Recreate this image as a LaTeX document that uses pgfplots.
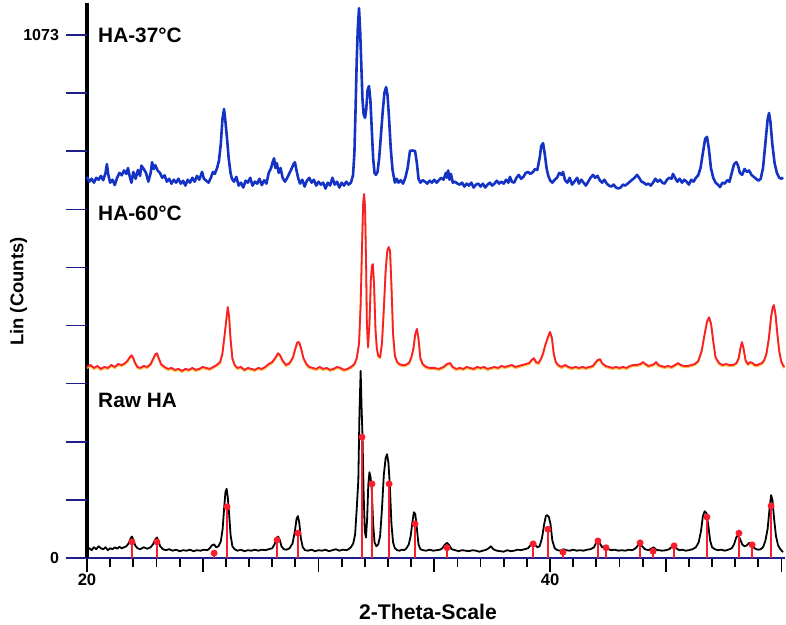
\documentclass[border=0pt]{standalone}
\usepackage{pgfplots}
\pgfplotsset{compat=1.18}
\usepackage{pgfplotstable}
\usepackage{fontspec}
\setmainfont{Liberation Sans}
\definecolor{cblue}{RGB}{20,50,195}
\definecolor{cred}{RGB}{250,30,45}
\definecolor{cyel}{RGB}{250,190,60}
\definecolor{cnavy}{RGB}{30,30,140}

\pgfplotstableread{
x y
20.00 782
20.10 772
20.20 778
20.30 770
20.40 780
20.50 776
20.60 784
20.70 775
20.80 790
20.86 808
20.92 786
21.00 770
21.10 776
21.20 765
21.30 780
21.40 790
21.50 785
21.60 795
21.70 788
21.77 800
21.85 782
21.92 770
22.00 792
22.10 778
22.20 796
22.29 784
22.35 805
22.45 798
22.55 790
22.65 772
22.75 790
22.81 812
22.88 798
22.95 806
23.05 795
23.15 790
23.25 780
23.35 785
23.45 772
23.55 778
23.65 768
23.75 776
23.85 770
23.95 778
24.05 768
24.15 774
24.25 764
24.35 776
24.45 770
24.55 780
24.65 772
24.75 784
24.85 776
24.97 792
25.05 778
25.15 774
25.25 770
25.35 780
25.44 792
25.52 788
25.62 800
25.70 815
25.78 850
25.85 900
25.92 921
25.98 895
26.05 860
26.12 820
26.20 790
26.26 778
26.35 772
26.45 782
26.55 764
26.65 770
26.75 760
26.85 774
26.95 770
27.05 780
27.15 764
27.25 772
27.35 768
27.45 778
27.55 765
27.65 775
27.75 768
27.85 790
27.95 800
28.02 812
28.08 820
28.14 800
28.20 810
28.28 790
28.36 800
28.45 780
28.55 772
28.65 780
28.75 790
28.85 800
28.92 808
28.98 812
29.05 795
29.12 780
29.20 768
29.30 776
29.40 762
29.50 774
29.60 780
29.70 770
29.80 776
29.90 764
30.00 772
30.10 766
30.20 770
30.30 758
30.40 770
30.50 764
30.60 780
30.70 766
30.80 772
30.90 760
31.00 770
31.10 764
31.20 772
31.30 766
31.40 770
31.49 785
31.55 830
31.60 920
31.65 1020
31.70 1090
31.75 1128
31.80 1080
31.85 1010
31.90 940
31.95 910
32.01 903
32.06 920
32.12 960
32.18 968
32.24 940
32.30 880
32.36 820
32.42 790
32.48 786
32.55 792
32.62 820
32.70 870
32.78 920
32.85 955
32.92 966
32.98 950
33.05 900
33.12 840
33.20 795
33.30 770
33.38 778
33.45 770
33.55 775
33.65 768
33.75 780
33.85 800
33.95 835
34.05 836
34.17 835
34.25 810
34.32 778
34.40 770
34.50 775
34.60 772
34.70 768
34.80 774
34.90 770
35.00 776
35.10 770
35.20 775
35.30 780
35.40 776
35.50 790
35.55 780
35.60 795
35.66 776
35.72 788
35.80 770
35.90 772
36.00 768
36.10 766
36.20 770
36.30 762
36.40 768
36.50 764
36.60 770
36.70 760
36.80 766
36.90 768
37.00 762
37.10 768
37.20 760
37.30 766
37.40 770
37.50 764
37.60 768
37.70 774
37.80 768
37.90 772
38.00 768
38.10 776
38.20 770
38.27 782
38.35 772
38.45 770
38.55 780
38.65 786
38.75 778
38.85 782
38.95 790
39.05 792
39.15 788
39.27 792
39.35 798
39.45 796
39.55 820
39.62 845
39.70 851
39.77 830
39.85 800
39.92 785
40.00 775
40.10 770
40.20 776
40.30 780
40.40 790
40.50 786
40.56 792
40.65 775
40.75 770
40.85 780
40.95 766
41.05 772
41.17 780
41.25 768
41.35 776
41.45 770
41.55 764
41.65 772
41.75 780
41.86 786
41.95 780
42.05 784
42.15 775
42.25 770
42.35 776
42.45 768
42.55 764
42.65 762
42.75 766
42.85 760
42.95 758
43.05 760
43.15 766
43.25 764
43.35 768
43.45 772
43.55 776
43.65 780
43.76 786
43.85 780
43.95 772
44.05 770
44.15 766
44.25 768
44.35 764
44.45 770
44.55 778
44.65 772
44.75 776
44.85 770
44.95 768
45.05 776
45.15 780
45.25 778
45.31 788
45.40 780
45.50 772
45.60 778
45.70 770
45.80 776
45.90 772
46.00 766
46.10 776
46.20 772
46.30 780
46.40 785
46.50 800
46.60 830
46.70 860
46.78 864
46.86 840
46.95 800
47.05 780
47.15 770
47.25 766
47.34 761
47.45 770
47.55 768
47.65 775
47.75 772
47.85 790
47.95 808
48.05 812
48.12 805
48.20 790
48.30 786
48.40 798
48.51 792
48.60 795
48.70 786
48.80 782
48.90 778
49.00 774
49.10 778
49.20 800
49.30 850
49.40 900
49.46 913
49.52 895
49.60 850
49.70 810
49.80 790
49.90 780
50.00 778
50.06 781
}\bluedata

\pgfplotstableread{
x y
20.00 392
20.15 396
20.30 390
20.45 394
20.60 388
20.75 392
20.90 390
21.05 396
21.20 392
21.35 398
21.50 396
21.65 400
21.75 405
21.85 412
21.93 416
22.00 410
22.08 400
22.18 392
22.30 390
22.45 394
22.60 392
22.75 398
22.85 408
22.95 418
23.02 420
23.10 410
23.20 398
23.35 392
23.50 388
23.65 390
23.80 386
23.95 388
24.10 384
24.25 388
24.40 386
24.55 390
24.70 386
24.85 388
25.00 392
25.15 390
25.30 388
25.45 392
25.60 396
25.75 402
25.85 420
25.95 460
26.02 490
26.08 515
26.14 495
26.20 450
26.28 410
26.38 396
26.50 390
26.65 392
26.80 386
26.95 390
27.10 388
27.25 386
27.40 390
27.55 388
27.70 392
27.85 398
28.00 402
28.15 412
28.25 420
28.34 416
28.45 405
28.60 396
28.75 400
28.90 412
29.00 430
29.08 442
29.16 443
29.24 432
29.35 410
29.48 398
29.60 392
29.75 390
29.90 388
30.05 392
30.20 388
30.35 390
30.50 386
30.65 388
30.80 392
30.95 390
31.10 386
31.25 388
31.40 392
31.55 398
31.65 410
31.75 440
31.82 520
31.88 640
31.93 730
31.97 747
32.01 720
32.05 620
32.09 480
32.14 433
32.20 480
32.26 570
32.31 600
32.35 603
32.40 560
32.46 470
32.52 430
32.58 415
32.66 412
32.74 440
32.82 510
32.90 590
32.97 630
33.03 638
33.09 630
33.15 560
33.22 460
33.30 415
33.40 402
33.50 398
33.60 396
33.75 396
33.90 400
34.00 410
34.10 430
34.18 460
34.25 470
34.32 450
34.40 410
34.50 398
34.65 392
34.80 390
35.00 390
35.20 388
35.40 392
35.55 398
35.68 400
35.80 392
35.95 388
36.10 390
36.25 388
36.40 392
36.55 390
36.70 388
36.85 392
37.00 390
37.15 392
37.30 388
37.45 390
37.60 392
37.75 390
37.90 394
38.05 392
38.20 394
38.35 396
38.50 392
38.65 394
38.80 396
38.95 398
39.10 400
39.20 406
39.30 410
39.40 402
39.50 400
39.60 408
39.70 420
39.80 438
39.92 455
40.00 464
40.08 452
40.16 420
40.25 402
40.35 396
40.50 392
40.65 396
40.80 392
40.95 390
41.10 392
41.25 390
41.40 392
41.55 390
41.70 392
41.85 394
41.95 400
42.05 406
42.16 408
42.25 400
42.40 394
42.55 392
42.70 390
42.85 392
43.00 390
43.15 392
43.30 390
43.45 394
43.60 396
43.75 396
43.90 398
44.02 402
44.12 398
44.25 394
44.40 396
44.50 398
44.58 402
44.68 396
44.80 394
44.95 392
45.10 394
45.25 392
45.40 396
45.53 400
45.65 396
45.80 394
45.95 394
46.10 396
46.25 398
46.40 404
46.55 425
46.68 460
46.78 485
46.87 494
46.96 480
47.05 445
47.15 412
47.30 400
47.45 396
47.60 398
47.75 396
47.90 396
48.05 400
48.15 410
48.22 430
48.29 443
48.36 430
48.45 405
48.55 398
48.65 402
48.75 400
48.85 396
48.95 396
49.05 398
49.15 400
49.25 406
49.35 420
49.45 450
49.55 495
49.62 515
49.67 519
49.74 500
49.82 460
49.90 425
49.98 405
50.06 396
50.12 392
}\reddata

\pgfplotstableread{
x y
20.00 18
20.10 20
20.20 16
20.30 22
20.40 18
20.50 24
20.60 20
20.70 18
20.80 22
20.90 16
21.00 20
21.10 18
21.20 22
21.30 19
21.40 23
21.50 20
21.60 22
21.70 24
21.80 30
21.88 40
21.94 44
22.00 38
22.08 26
22.18 20
22.30 18
22.45 22
22.60 19
22.75 22
22.85 28
22.95 38
23.02 42
23.08 36
23.16 24
23.28 18
23.40 16
23.55 18
23.70 15
23.85 17
24.00 14
24.15 16
24.30 15
24.45 17
24.60 14
24.75 16
24.90 15
25.05 17
25.20 16
25.30 20
25.40 26
25.49 28
25.58 22
25.68 24
25.78 34
25.86 60
25.92 100
25.98 135
26.03 142
26.08 125
26.14 90
26.20 48
26.28 24
26.38 18
26.50 15
26.65 17
26.80 14
26.95 16
27.10 15
27.25 17
27.40 15
27.55 17
27.70 16
27.85 18
28.00 20
28.10 28
28.18 40
28.25 44
28.32 38
28.40 24
28.50 18
28.62 17
28.75 20
28.88 30
28.98 55
29.05 80
29.11 86
29.17 72
29.24 40
29.32 22
29.42 16
29.55 15
29.70 17
29.85 14
30.00 16
30.15 15
30.30 17
30.45 14
30.60 16
30.75 18
30.90 15
31.05 17
31.20 16
31.30 18
31.40 22
31.50 30
31.58 48
31.65 100
31.72 160
31.77 300
31.82 384
31.86 310
31.90 250
31.95 130
32.00 55
32.05 42
32.10 80
32.15 150
32.20 176
32.25 165
32.30 140
32.36 70
32.42 32
32.50 24
32.58 28
32.66 45
32.74 100
32.82 170
32.90 205
32.96 213
33.02 195
33.08 150
33.15 70
33.22 32
33.30 20
33.40 16
33.50 15
33.60 17
33.70 16
33.80 20
33.90 28
33.98 45
34.06 75
34.12 94
34.18 90
34.25 60
34.32 28
34.40 18
34.52 16
34.65 15
34.80 17
34.95 15
35.10 16
35.25 17
35.35 20
35.45 27
35.55 31
35.65 26
35.75 18
35.90 16
36.05 14
36.20 16
36.35 15
36.50 14
36.65 16
36.80 15
36.95 13
37.10 15
37.25 17
37.35 20
37.45 24
37.55 18
37.70 15
37.85 14
38.00 13
38.15 16
38.30 14
38.45 15
38.60 17
38.75 16
38.90 18
39.05 20
39.15 26
39.25 32
39.33 28
39.45 22
39.55 24
39.65 40
39.75 70
39.82 86
39.88 88
39.95 84
40.02 70
40.10 36
40.20 20
40.32 16
40.45 15
40.58 18
40.70 16
40.85 15
41.00 17
41.15 15
41.30 16
41.45 15
41.60 17
41.75 18
41.90 22
41.98 30
42.07 37
42.15 30
42.25 22
42.35 24
42.42 22
42.52 18
42.65 16
42.80 17
42.95 15
43.10 16
43.25 15
43.40 17
43.55 16
43.70 20
43.80 26
43.89 31
43.98 24
44.10 18
44.25 16
44.40 20
44.48 22
44.58 17
44.70 16
44.85 15
45.00 16
45.15 18
45.28 24
45.36 27
45.45 20
45.58 16
45.72 17
45.85 15
46.00 16
46.15 18
46.30 22
46.42 32
46.52 55
46.60 85
46.68 96
46.76 92
46.84 65
46.92 35
47.00 22
47.12 18
47.25 16
47.40 17
47.55 15
47.70 17
47.85 20
47.95 28
48.04 42
48.12 47
48.20 40
48.30 28
48.40 24
48.50 26
48.60 31
48.68 28
48.78 22
48.90 18
49.00 17
49.10 18
49.20 22
49.30 35
49.40 60
49.48 100
49.55 129
49.61 118
49.68 80
49.76 45
49.85 26
49.95 18
50.06 12
}\blackdata

\pgfplotstableread{
x y
21.94 33
23.02 33
25.49 10
26.05 105
28.21 37
29.11 51
31.88 248
32.31 152
33.05 152
34.17 70
35.55 21
39.27 29
39.91 59
40.56 12
42.07 35
42.42 21
43.89 31
44.45 14
45.36 25
46.78 84
48.16 51
48.73 27
49.55 107
}\stickdata

\begin{document}
\begin{tikzpicture}
\begin{axis}[
  at={(0,0)}, anchor=south west,
  scale only axis, width=349pt, height=277.5pt,
  xmin=20, xmax=50.15, ymin=0, ymax=1138.6,
  axis x line*=bottom, axis y line*=left,
  x axis line style={draw=cnavy, line width=0.7pt},
  y axis line style={draw=black, line width=1.9pt},
  tick align=outside,
  major tick length=7pt, minor tick length=4.5pt,
  xtick={20,25,30,35,40,45,50},
  xticklabels={\textbf{20},,,,\textbf{40},,},
  minor x tick num=4,
  x tick style={draw=black, line width=0.9pt},
  xticklabel style={font=\fontsize{8.3}{9}\selectfont, yshift=2.5pt},
  ytick=\empty,
  extra y ticks={0,119.22,238.44,357.67,476.89,596.11,715.33,834.56,953.78,1073},
  extra y tick labels={\textbf{0},,,,,,,,,\textbf{1073}},
  extra y tick style={major tick length=10.5pt, tick style={draw=cnavy, line width=0.8pt},
     yticklabel style={font=\fontsize{8}{9}\selectfont}},
  xlabel={\textbf{2-Theta-Scale}},
  xlabel style={font=\fontsize{10.6}{12}\selectfont, at={(axis description cs:0.4885,-0.0973)}, anchor=center},
  ylabel={\textbf{Lin (Counts)}},
  ylabel style={font=\fontsize{9.2}{11}\selectfont, at={(axis description cs:-0.098,0.48)}, anchor=center},
  clip=false,
]
\addplot[cblue, line width=1.3pt, line join=round] table {\bluedata};
\addplot[cyel, line width=0.9pt, line join=round, yshift=-0.6pt] table {\reddata};
\addplot[cred, line width=0.9pt, line join=round] table {\reddata};
\addplot[black, line width=0.9pt, line join=round] table {\blackdata};
\addplot[cred, line width=0.8pt, ycomb, mark=*, mark size=1.3pt, mark options={fill=cred, draw=cred}] table {\stickdata};
\node[anchor=west, font=\fontsize{10.4}{12}\selectfont\bfseries] at (axis cs:20.18,1073) {HA-37°C};
\node[anchor=west, font=\fontsize{10.4}{12}\selectfont\bfseries] at (axis cs:20.18,708) {HA-60°C};
\node[anchor=west, font=\fontsize{10.4}{12}\selectfont\bfseries] at (axis cs:20.18,324) {Raw HA};
\end{axis}
\pgfresetboundingbox
\useasboundingbox (-43.5pt,-33.5pt) rectangle (349.5pt,279pt);
\end{tikzpicture}
\end{document}
